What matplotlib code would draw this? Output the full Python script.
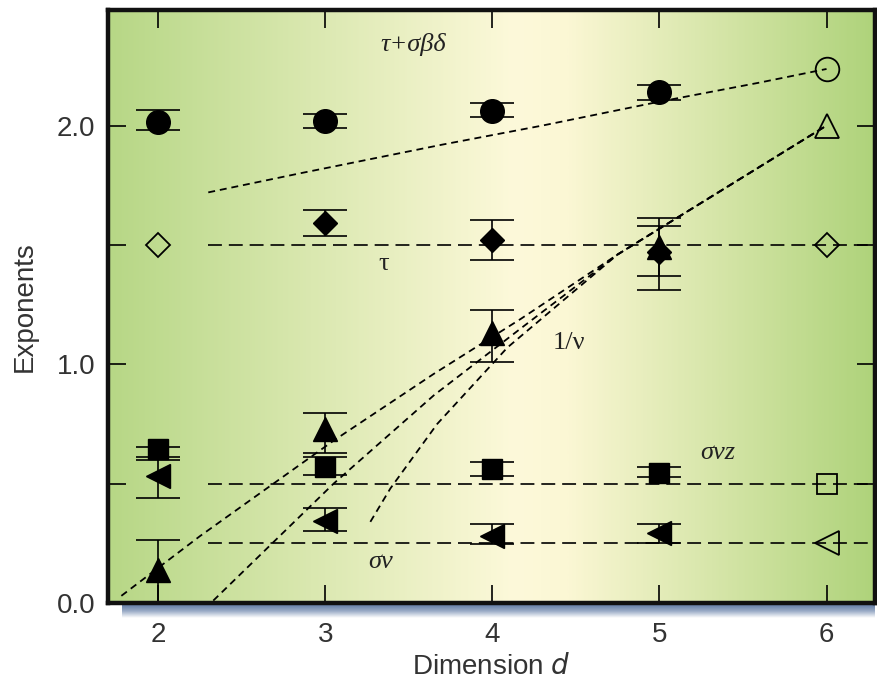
import numpy as np
import matplotlib
matplotlib.use("Agg")
import matplotlib.pyplot as plt
from matplotlib.colors import LinearSegmentedColormap

plt.rcParams['font.family'] = ['Liberation Sans', 'DejaVu Sans']
plt.rcParams['lines.scale_dashes'] = False

# ---- data ----
dims = [2, 3, 4, 5]

# tau + sigma beta delta (filled circles)
circ_y = [2.015, 2.02, 2.06, 2.14]
circ_lo = [1.98, 1.99, 2.036, 2.107]
circ_hi = [2.065, 2.05, 2.095, 2.17]
circ_mf = 2.237

# tau (diamonds)
diam_d = [3, 4, 5]
diam_y = [1.59, 1.52, 1.47]
diam_lo = [1.537, 1.437, 1.37]
diam_hi = [1.646, 1.604, 1.58]
diam_mf = 1.5

# 1/nu (up triangles)
tri_y = [0.14, 0.73, 1.13, 1.49]
tri_lo = [0.0, 0.63, 1.01, 1.31]
tri_hi = [0.264, 0.796, 1.227, 1.613]
tri_mf = 2.0

# sigma nu z (squares)
sq_y = [0.645, 0.57, 0.56, 0.545]
sq_lo = [0.61, 0.536, 0.53, 0.528]
sq_hi = [0.654, 0.61, 0.59, 0.57]
sq_mf = 0.5

# sigma nu (left triangles)
lt_y = [0.53, 0.345, 0.28, 0.293]
lt_lo = [0.44, 0.30, 0.247, 0.25]
lt_hi = [0.60, 0.40, 0.33, 0.33]
lt_mf = 0.25

# fit curves
fit_circ_d = [2.3, 2.85, 3.7, 4.3, 5.0, 5.6, 6.0]
fit_circ_y = [1.72, 1.80, 1.92, 2.0, 2.10, 2.18, 2.237]
nuA_d = [1.78, 2.25, 3.05, 3.65, 4.17, 4.75, 6.0]
nuA_y = [0.03, 0.28, 0.68, 0.96, 1.19, 1.46, 2.0]
nuB_d = [2.33, 3.05, 3.65, 4.17, 4.75, 6.0]
nuB_y = [0.01, 0.50, 0.87, 1.15, 1.46, 2.0]
nuC_d = [3.27, 3.39, 3.67, 4.09, 4.75, 6.0]
nuC_y = [0.34, 0.48, 0.75, 1.07, 1.46, 2.0]
flat_start = 2.3

x_ticks = [2, 3, 4, 5, 6]
y_ticks = [0.0, 1.0, 2.0]
y_minor = [0.5, 1.5]

XMIN, XMAX, YMIN, YMAX = 1.7, 6.29, 0.0, 2.484

fig = plt.figure(figsize=(8.78, 6.84), dpi=100)

# shadow under the bottom spine
sh = fig.add_axes([122 / 878, 1 - 618 / 684, 753 / 878, 14 / 684], zorder=0)
grad = np.linspace(0, 1, 50)[:, None]
shcm = LinearSegmentedColormap.from_list('sh', ['#5f7aa3', '#9aabc6', '#ffffff'])
sh.imshow(grad, aspect='auto', cmap=shcm, extent=[0, 1, 0, 1])
sh.axis('off')

ax = fig.add_axes([108 / 878, 1 - 603 / 684, 767 / 878, 593 / 684], zorder=1)

# background gradient
bgcm = LinearSegmentedColormap.from_list(
    'bg', [(0.0, '#b7d786'), (0.53, '#fdf9da'), (0.60, '#fbf7d4'), (1.0, '#afd37b')])
xs = np.linspace(0, 1, 400)[None, :]
ax.imshow(xs, aspect='auto', cmap=bgcm, extent=[XMIN, XMAX, YMIN, YMAX], zorder=0)

long_dash = (10, 5)
short_dash = (5, 3.5)
lw = 1.2

# dashed guide lines
for yv in [diam_mf, sq_mf, lt_mf]:
    ax.plot([flat_start, XMAX], [yv, yv], color='black', lw=lw, dashes=long_dash, zorder=2)
ax.plot(fit_circ_d, fit_circ_y, color='black', lw=1.3, dashes=short_dash, zorder=2)
for dd, yy in [(nuA_d, nuA_y), (nuB_d, nuB_y), (nuC_d, nuC_y)]:
    ax.plot(dd, yy, color='black', lw=1.3, dashes=short_dash, zorder=2)


def err(y, lo, hi):
    y = np.array(y); return [y - np.array(lo), np.array(hi) - y]


ekw = dict(color='black', ecolor='black', elinewidth=1.2, capsize=16, capthick=1.2,
           linestyle='none', zorder=3)
ax.errorbar(dims, circ_y, yerr=err(circ_y, circ_lo, circ_hi), fmt='o', ms=17, **ekw)
ax.errorbar(diam_d, diam_y, yerr=err(diam_y, diam_lo, diam_hi), fmt='D', ms=12, **ekw)
ax.errorbar(dims, tri_y, yerr=err(tri_y, tri_lo, tri_hi), fmt='^', ms=17, **ekw)
ax.errorbar(dims, sq_y, yerr=err(sq_y, sq_lo, sq_hi), fmt='s', ms=15, **ekw)
ax.errorbar(dims, lt_y, yerr=err(lt_y, lt_lo, lt_hi), fmt='<', ms=17, **ekw)

# open (mean-field) markers
okw = dict(mfc='none', mec='black', mew=1.3, linestyle='none', zorder=4)
ax.plot([6], [circ_mf], marker='o', ms=17, **okw)
ax.plot([2, 6], [diam_mf, diam_mf], marker='D', ms=12, **okw)
ax.plot([6], [tri_mf], marker='^', ms=17, **okw)
ax.plot([6], [sq_mf], marker='s', ms=15, **okw)
ax.plot([6], [lt_mf], marker='<', ms=17, **okw)

# curve labels
tf = dict(family=['Liberation Serif', 'DejaVu Serif'], fontsize=19, color='#222222', zorder=5)
ax.text(3.33, 2.34, 'τ+σβδ', style='italic', ha='left', va='center', **tf)
ax.text(3.35, 1.42, 'τ', ha='center', va='center', **tf)
ax.text(4.46, 1.09, '1/ν', ha='center', va='center', **tf)
ax.text(5.35, 0.63, 'σνz', style='italic', ha='center', va='center', **tf)
ax.text(3.33, 0.17, 'σν', style='italic', ha='center', va='center', **tf)

ax.set_xlim(XMIN, XMAX)
ax.set_ylim(YMIN, YMAX)
ax.set_xticks(x_ticks)
ax.set_yticks(y_ticks)
ax.set_yticks(y_minor, minor=True)
ax.set_yticklabels(['0.0', '1.0', '2.0'])
ax.tick_params(which='both', direction='in', length=13, width=1.2, color='black',
               top=True, right=True, labelsize=20, labelcolor='#333333')
ax.tick_params(axis='y', pad=9)
ax.tick_params(axis='x', pad=14)
for s in ax.spines.values():
    s.set_linewidth(3.2)
    s.set_color('#111111')
    s.set_zorder(6)

ax.set_xlabel('Dimension $d$', fontsize=20, color='#333333', labelpad=4)
ax.set_ylabel('Exponents', fontsize=20, color='#333333', labelpad=14)

fig.savefig('out.png', dpi=100)
